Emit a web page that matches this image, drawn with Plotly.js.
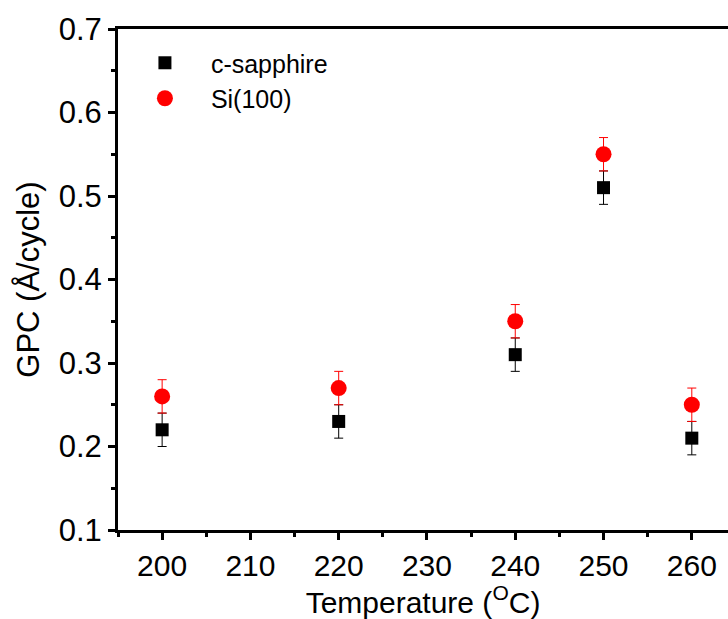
<!DOCTYPE html>
<html>
<head>
<meta charset="utf-8">
<script src="https://cdn.plot.ly/plotly-3.0.1.min.js"></script>
<style>html,body{margin:0;padding:0;background:#fff;overflow:hidden}#chart{width:728px;height:619px}</style>
</head>
<body>
<div id="chart"></div>
<script>
const temperature = [200, 220, 240, 250, 260];
const sapphireGPC = [0.22, 0.23, 0.31, 0.51, 0.21];
const sapphireErr = [0.02, 0.02, 0.02, 0.02, 0.02];
const siGPC = [0.26, 0.27, 0.35, 0.55, 0.25];
const siErr = [0.02, 0.02, 0.02, 0.02, 0.02];
const seriesNames = ['c-sapphire', 'Si(100)'];
const xTicks = [200, 210, 220, 230, 240, 250, 260];
const yTicks = [0.1, 0.2, 0.3, 0.4, 0.5, 0.6, 0.7];

const font = 'Liberation Sans, Arial, sans-serif';
const traces = [
  {
    x: temperature, y: sapphireGPC, name: '\u00a0' + seriesNames[0], type: 'scatter', mode: 'markers',
    marker: {symbol: 'square', size: 13, color: '#000000'},
    error_y: {type: 'data', array: sapphireErr, visible: true, color: '#000000', thickness: 1, width: 4.5}
  },
  {
    x: temperature, y: siGPC, name: '\u00a0' + seriesNames[1], type: 'scatter', mode: 'markers',
    marker: {symbol: 'circle', size: 16, color: '#ff0000'},
    error_y: {type: 'data', array: siErr, visible: true, color: '#ff0000', thickness: 1, width: 4.5}
  }
];
const layout = {
  width: 728, height: 619,
  margin: {l: 118, r: 0, t: 29, b: 89},
  paper_bgcolor: '#fff', plot_bgcolor: '#fff',
  font: {family: font, color: '#000'},
  showlegend: true,
  legend: {x: 0.013, y: 0.978, xanchor: 'left', yanchor: 'top', font: {size: 25, family: font}, bgcolor: 'rgba(0,0,0,0)', itemwidth: 68, tracegroupgap: 0},
  xaxis: {
    range: [195, 264.1], tickvals: xTicks, ticktext: xTicks.map(String),
    showgrid: false, zeroline: false, showline: true, linecolor: '#000', linewidth: 3, mirror: true,
    ticks: 'outside', ticklen: 7, tickwidth: 3, tickcolor: '#000',
    minor: {dtick: 5, ticks: 'outside', ticklen: 4, tickwidth: 3, tickcolor: '#000', showgrid: false},
    tickfont: {size: 30, family: font},
    title: {text: 'Temperature (<sup>O</sup>C)', font: {size: 30, family: font}, standoff: 12}
  },
  yaxis: {
    range: [0.1, 0.7], tickvals: yTicks, ticktext: yTicks.map(v => v.toFixed(1)),
    showgrid: false, zeroline: false, showline: true, linecolor: '#000', linewidth: 3,
    ticks: 'outside', ticklen: 7, tickwidth: 3, tickcolor: '#000',
    minor: {dtick: 0.05, ticks: 'outside', ticklen: 4, tickwidth: 3, tickcolor: '#000', showgrid: false},
    tickfont: {size: 31, family: font},
    title: {text: 'GPC (Å/cycle)', font: {size: 31, family: font}, standoff: 10}
  }
};
Plotly.newPlot('chart', traces, layout, {displayModeBar: false, staticPlot: true});
</script>
</body>
</html>
